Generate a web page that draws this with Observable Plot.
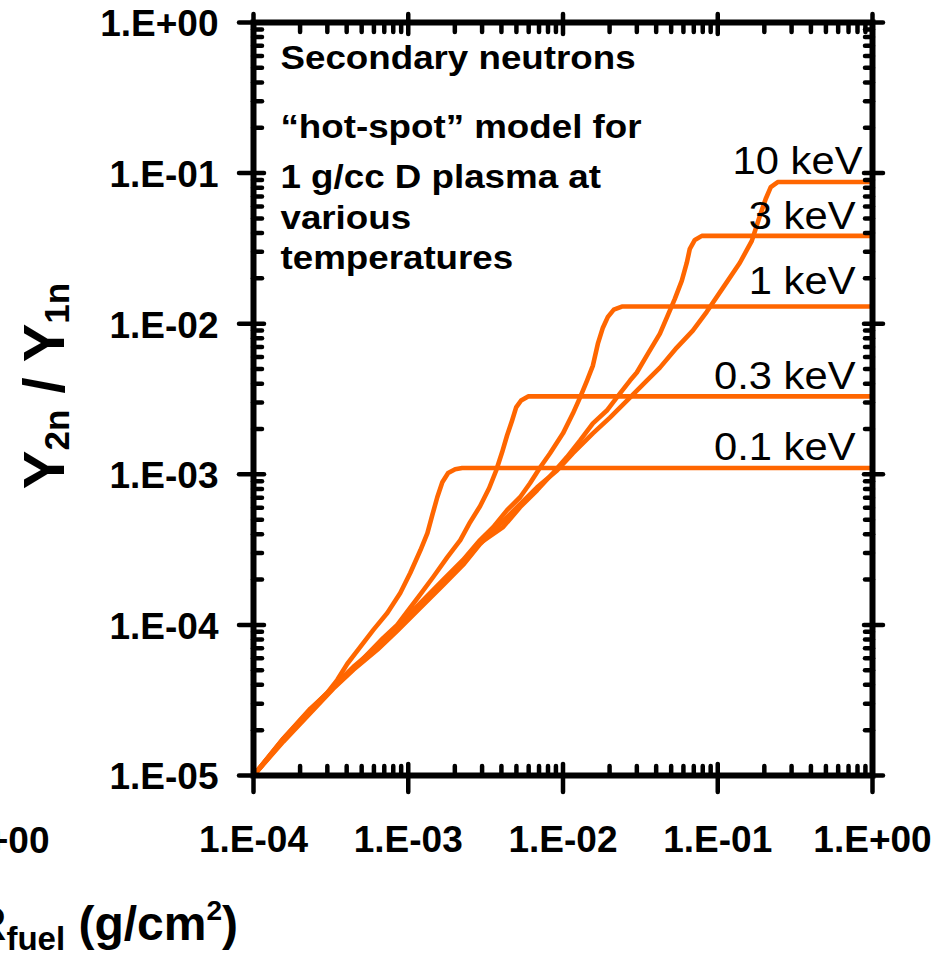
<!DOCTYPE html>
<html>
<head>
<meta charset="utf-8">
<script src="https://cdn.jsdelivr.net/npm/d3@7"></script>
<script src="https://cdn.jsdelivr.net/npm/@observablehq/plot@0.6"></script>
<style>
  html, body { margin: 0; padding: 0; background: #fff; overflow: hidden; }
  #chart svg { display: block; }
</style>
</head>
<body>
<div id="chart"></div>
<script>
// ---------------- data ----------------
const temperatures = ["0.1 keV", "0.3 keV", "1 keV", "3 keV", "10 keV"];

const rhoR_0p1  = [1e-4, 1.56e-4, 2.33e-4, 3.00e-4, 3.48e-4, 4.04e-4, 4.90e-4, 5.95e-4, 7.32e-4, 8.88e-4, 1.03e-3, 1.20e-3, 1.33e-3, 1.43e-3, 1.54e-3, 1.66e-3, 1.81e-3, 2.01e-3, 2.23e-3, 1];
const ratio_0p1 = [1e-5, 1.76e-5, 2.74e-5, 3.55e-5, 4.32e-5, 5.52e-5, 7.15e-5, 9.27e-5, 1.20e-4, 1.63e-4, 2.21e-4, 3.14e-4, 4.07e-4, 5.35e-4, 7.04e-4, 8.85e-4, 1.02e-3, 1.08e-3, 1.10e-3, 1.10e-3];

const rhoR_0p3  = [1e-4, 1.56e-4, 2.33e-4, 3.28e-4, 4.69e-4, 6.90e-4, 8.49e-4, 1.03e-3, 1.20e-3, 1.45e-3, 1.79e-3, 2.17e-3, 2.51e-3, 2.91e-3, 3.33e-3, 3.70e-3, 4.04e-3, 4.35e-3, 4.69e-3, 4.98e-3, 5.36e-3, 5.95e-3, 1];
const ratio_0p3 = [1e-5, 1.76e-5, 2.78e-5, 3.83e-5, 5.44e-5, 8.20e-5, 1.00e-4, 1.30e-4, 1.60e-4, 2.08e-4, 2.82e-4, 3.66e-4, 4.81e-4, 6.14e-4, 8.08e-4, 1.06e-3, 1.40e-3, 1.81e-3, 2.28e-3, 2.78e-3, 3.09e-3, 3.29e-3, 3.29e-3];

const rhoR_1  = [1e-4, 1.56e-4, 3.28e-4, 4.42e-4, 6.31e-4, 8.49e-4, 1.20e-3, 1.68e-3, 2.26e-3, 2.91e-3, 3.54e-3, 4.35e-3, 5.28e-3, 6.12e-3, 7.11e-3, 8.25e-3, 1.00e-2, 1.16e-2, 1.29e-2, 1.43e-2, 1.56e-2, 1.68e-2, 1.81e-2, 1.95e-2, 2.13e-2, 2.40e-2, 1];
const ratio_1 = [1e-5, 1.73e-5, 3.89e-5, 5.27e-5, 7.15e-5, 9.70e-5, 1.40e-4, 1.99e-4, 2.70e-4, 3.66e-4, 4.46e-4, 5.78e-4, 7.04e-4, 8.72e-4, 1.11e-3, 1.38e-3, 1.87e-3, 2.54e-3, 3.24e-3, 4.19e-3, 5.27e-3, 7.37e-3, 9.41e-3, 1.11e-2, 1.24e-2, 1.30e-2, 1.30e-2];

const rhoR_3  = [1e-4, 1.56e-4, 3.28e-4, 4.42e-4, 6.31e-4, 8.49e-4, 1.20e-3, 1.68e-3, 2.26e-3, 2.91e-3, 4.10e-3, 5.28e-3, 6.80e-3, 8.62e-3, 1.06e-2, 1.29e-2, 1.56e-2, 1.92e-2, 2.23e-2, 2.71e-2, 3.00e-2, 3.54e-2, 4.23e-2, 4.90e-2, 5.28e-2, 5.86e-2, 6.31e-2, 6.60e-2, 7.11e-2, 7.89e-2, 1];
const ratio_3 = [1e-5, 1.71e-5, 3.83e-5, 5.11e-5, 6.94e-5, 9.27e-5, 1.32e-4, 1.87e-4, 2.54e-4, 3.49e-4, 4.46e-4, 6.05e-4, 7.83e-4, 1.02e-3, 1.30e-3, 1.68e-3, 2.18e-3, 2.65e-3, 3.24e-3, 4.19e-3, 4.74e-3, 6.33e-3, 8.59e-3, 1.22e-2, 1.46e-2, 1.93e-2, 2.54e-2, 3.14e-2, 3.60e-2, 3.83e-2, 3.83e-2];

const rhoR_10  = [1e-4, 1.56e-4, 3.28e-4, 4.42e-4, 6.31e-4, 8.49e-4, 1.20e-3, 1.68e-3, 2.26e-3, 2.91e-3, 3.75e-3, 5.05e-3, 6.80e-3, 9.15e-3, 1.16e-2, 1.56e-2, 2.01e-2, 2.59e-2, 3.48e-2, 4.23e-2, 5.44e-2, 6.90e-2, 8.49e-2, 1.08e-1, 1.39e-1, 1.66e-1, 1.87e-1, 2.04e-1, 2.20e-1, 2.44e-1, 1];
const ratio_10 = [1e-5, 1.68e-5, 3.77e-5, 5.04e-5, 6.83e-5, 9.13e-5, 1.30e-4, 1.84e-4, 2.50e-4, 3.44e-4, 4.46e-4, 6.05e-4, 8.20e-4, 1.06e-3, 1.38e-3, 1.87e-3, 2.38e-3, 3.09e-3, 4.19e-3, 5.11e-3, 6.94e-3, 8.99e-3, 1.20e-2, 1.73e-2, 2.54e-2, 3.55e-2, 5.19e-2, 6.73e-2, 8.08e-2, 8.72e-2, 8.72e-2];

// temperature labels: y value of each label's baseline
const labelY = [1.24e-3, 3.69e-3, 1.57e-2, 4.24e-2, 9.8e-2];

// axis ticks
const xMajor = [1e-4, 1e-3, 1e-2, 1e-1, 1];
const xTickLabels = ["1.E-04", "1.E-03", "1.E-02", "1.E-01", "1.E+00"];
const yMajor = [1e-5, 1e-4, 1e-3, 1e-2, 1e-1, 1];
const yTickLabels = ["1.E-05", "1.E-04", "1.E-03", "1.E-02", "1.E-01", "1.E+00"];
const minorMultipliers = [2, 3, 4, 5, 6, 7, 8, 9];

// texts
const annotationLines = ["Secondary neutrons", "\u201Chot-spot\u201D model for", "1 g/cc D plasma at", "various", "temperatures"];
const neighbourTickLabel = "1.E+00";
const xTitleParts = ["\u03C1R", "fuel", " (g/cm", "2", ")"];
const yTitleParts = ["Y", "2n", " / Y", "1n"];

// ---------------- build tables ----------------
const series = [
  {T: temperatures[0], rhoR: rhoR_0p1, ratio: ratio_0p1},
  {T: temperatures[1], rhoR: rhoR_0p3, ratio: ratio_0p3},
  {T: temperatures[2], rhoR: rhoR_1,   ratio: ratio_1},
  {T: temperatures[3], rhoR: rhoR_3,   ratio: ratio_3},
  {T: temperatures[4], rhoR: rhoR_10,  ratio: ratio_10}
];
const rows = series.flatMap(s => s.rhoR.map((x, i) => ({T: s.T, rhoR: x, ratio: s.ratio[i]})));
const labels = temperatures.map((t, i) => ({T: t, y: labelY[i]}));

const xMinor = xMajor.slice(0, -1).flatMap(d => minorMultipliers.map(m => d * m));
const yMinor = yMajor.slice(0, -1).flatMap(d => minorMultipliers.map(m => d * m));
const xLabelMap = new Map(xMajor.map((d, i) => [d, xTickLabels[i]]));
const yLabelMap = new Map(yMajor.map((d, i) => [d, yTickLabels[i]]));

// ---------------- layout / style ----------------
const ORANGE = "#ff6600";
const FONT = '"Liberation Sans", Arial, Helvetica, sans-serif';
const tk = {strokeWidth: 4.5, strokeLinecap: "round", fill: "none", label: null};
const annotationOffsets = [46, 115, 165, 206, 246];

const plot = Plot.plot({
  width: 951,
  height: 953,
  marginLeft: 253,
  marginRight: 79,
  marginTop: 22,
  marginBottom: 178,
  x: {type: "log", domain: [1e-4, 1]},
  y: {type: "log", domain: [1e-5, 1]},
  style: {fontFamily: FONT, background: "white", color: "black"},
  marks: [
    Plot.line(rows, {x: "rhoR", y: "ratio", z: "T", stroke: ORANGE, strokeWidth: 4.6, strokeLinejoin: "round", strokeLinecap: "round"}),
    Plot.frame({stroke: "black", strokeWidth: 6}),

    // bottom axis
    Plot.axisX(xMajor, {anchor: "bottom", tickSize: 17, ...tk}),
    Plot.axisX(xMajor, {anchor: "bottom", tickSize: -11, ...tk}),
    Plot.axisX(xMinor, {anchor: "bottom", tickSize: -9, ...tk}),
    Plot.axisX(xMajor, {anchor: "bottom", tickSize: 0, tickPadding: 50, tickFormat: d => xLabelMap.get(d), fontSize: 37, fontWeight: "bold", label: null}),
    // top axis
    Plot.axisX(xMajor, {anchor: "top", tickSize: 9, ...tk}),
    Plot.axisX(xMajor, {anchor: "top", tickSize: -11, ...tk}),
    Plot.axisX(xMinor, {anchor: "top", tickSize: -9, ...tk}),
    // left axis
    Plot.axisY(yMajor, {anchor: "left", tickSize: 14, ...tk}),
    Plot.axisY(yMajor, {anchor: "left", tickSize: -11, ...tk}),
    Plot.axisY(yMinor, {anchor: "left", tickSize: -9, ...tk}),
    Plot.axisY(yMajor, {anchor: "left", tickSize: 0, tickPadding: 35, dy: 2, tickFormat: d => yLabelMap.get(d), fontSize: 37, fontWeight: "bold", label: null}),
    // right axis
    Plot.axisY(yMajor, {anchor: "right", tickSize: 10, ...tk}),
    Plot.axisY(yMajor, {anchor: "right", tickSize: -9, ...tk}),
    Plot.axisY(yMinor, {anchor: "right", tickSize: -8, ...tk}),

    // temperature labels
    Plot.text(labels.filter(d => d.T !== "10 keV"), {x: () => 1, y: "y", text: "T", textAnchor: "end", lineAnchor: "bottom", dx: -17, fontSize: 39, fill: "black"}),
    Plot.text(labels.filter(d => d.T === "10 keV"), {x: () => 1, y: "y", text: "T", textAnchor: "end", lineAnchor: "bottom", dx: -10, fontSize: 39, fill: "black"}),

    // annotation block
    ...annotationLines.map((line, i) => Plot.text([line], {text: d => d, frameAnchor: "top-left", textAnchor: "start", lineAnchor: "bottom", dx: 27, dy: annotationOffsets[i], fontSize: 34, fontWeight: "bold", fill: "black"})),

    // tick label of the neighbouring panel (clipped at the left edge)
    Plot.text([neighbourTickLabel], {text: d => d, frameAnchor: "bottom-left", textAnchor: "end", lineAnchor: "bottom", dx: -204, dy: 77, fontSize: 37, fontWeight: "bold", fill: "black"})
  ]
});

document.getElementById("chart").append(plot);

// horizontal stretch of some texts, as in the reference
const stretch = new Map([...annotationLines.map(s => [s, 1.08]), ...temperatures.map(s => [s, 1.07])]);
d3.select(plot).selectAll("text").each(function () {
  const k = stretch.get(this.textContent);
  if (k) {
    const w = this.getComputedTextLength();
    this.setAttribute("textLength", (w * k).toFixed(1));
    this.setAttribute("lengthAdjust", "spacingAndGlyphs");
  }
});

// axis titles with sub/superscripts
const svg = d3.select(plot);
const yt = svg.append("text")
  .attr("transform", "translate(64,386) rotate(-90)")
  .attr("text-anchor", "middle")
  .attr("font-family", FONT)
  .attr("font-weight", "bold")
  .attr("font-size", 58)
  .attr("fill", "black");
yt.append("tspan").text(yTitleParts[0]);
yt.append("tspan").attr("font-size", 35).attr("dy", 5).text(yTitleParts[1]);
yt.append("tspan").attr("dy", -5).text(yTitleParts[2]);
yt.append("tspan").attr("font-size", 35).attr("dy", 5).text(yTitleParts[3]);

const xt = svg.append("text")
  .attr("x", 238).attr("y", 940)
  .attr("text-anchor", "end")
  .attr("font-family", FONT)
  .attr("font-weight", "bold")
  .attr("font-size", 48)
  .attr("fill", "black");
xt.append("tspan").text(xTitleParts[0]);
xt.append("tspan").attr("font-size", 33).attr("dy", 10).text(xTitleParts[1]);
xt.append("tspan").attr("dy", -10).text(xTitleParts[2]);
xt.append("tspan").attr("font-size", 28).attr("dy", -20).text(xTitleParts[3]);
xt.append("tspan").attr("dy", 20).text(xTitleParts[4]);
</script>
</body>
</html>
